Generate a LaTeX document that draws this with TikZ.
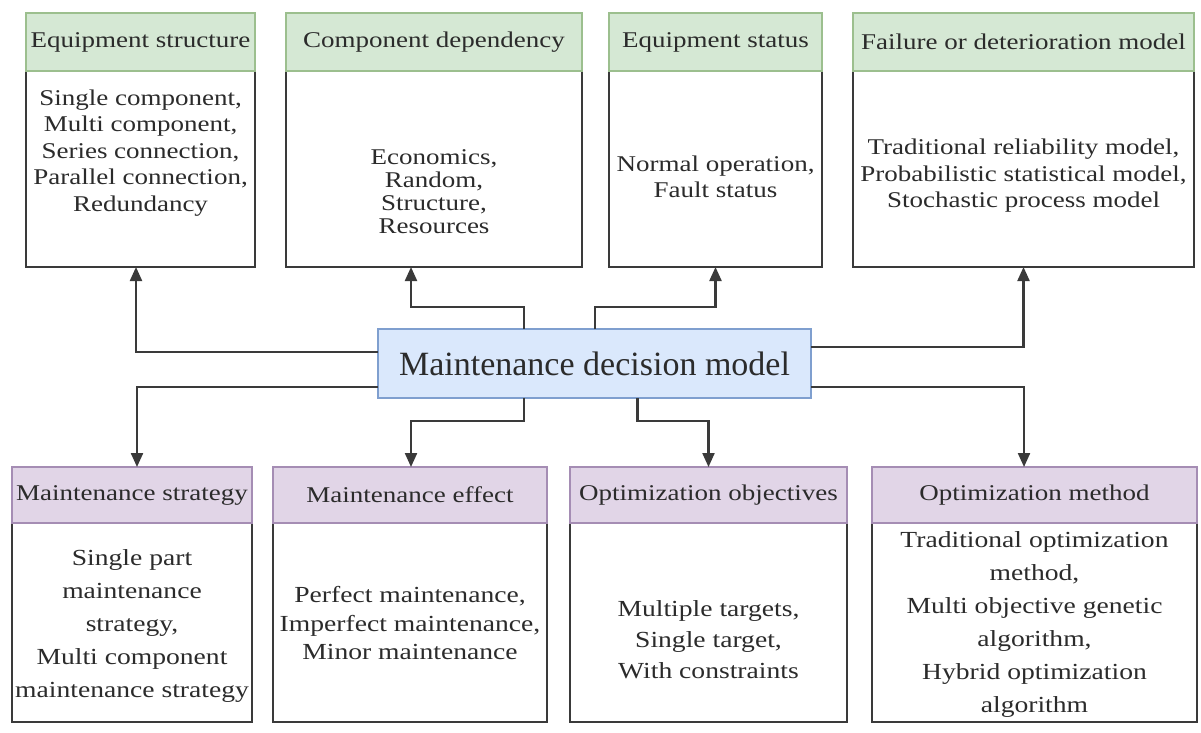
\documentclass[tikz,border=0pt]{standalone}
\usepackage{fontspec}
\setmainfont{Liberation Serif}
\newfontfamily\widefont[FakeStretch=1.2]{Liberation Serif}
\usetikzlibrary{arrows.meta}

\definecolor{greenfill}{HTML}{D5E8D4}
\definecolor{greenline}{HTML}{9CBF8E}
\definecolor{purplefill}{HTML}{E1D5E7}
\definecolor{purpleline}{HTML}{A58DB4}
\definecolor{bluefill}{HTML}{DAE8FC}
\definecolor{blueline}{HTML}{7F9FCF}
\definecolor{ink}{HTML}{2B2B2B}
\definecolor{wire}{HTML}{3A3A3A}

\tikzset{
  every node/.style={inner sep=0pt, outer sep=0pt},
  head/.style={rectangle, line width=1.5pt, text=ink,
    font=\widefont\fontsize{22.5}{26.5}\selectfont},
  greenhead/.style={head, fill=greenfill, draw=greenline},
  purplehead/.style={head, fill=purplefill, draw=purpleline},
  bodybox/.style={rectangle, draw=wire, line width=2.2pt, fill=white},
  toptext/.style={align=center, text=ink,
    font=\widefont\fontsize{22.5}{26.5}\selectfont},
  bottext/.style={align=center, text=ink,
    font=\widefont\fontsize{23}{#1}\selectfont},
  hub/.style={rectangle, fill=bluefill, draw=blueline, line width=1.5pt,
    text=ink, font=\fontsize{34}{40}\selectfont},
  conn/.style={draw=wire, line width=2.2pt,
    -{Triangle[length=14pt,width=12pt]}}
}

\begin{document}
\begin{tikzpicture}[x=1pt, y=-1pt]
\useasboundingbox[fill=white] (0,0) rectangle (1201,732);

% ---------- upper row: bodies ----------
\node[bodybox, minimum width=229pt, minimum height=196pt] (t1) at (140.5,169) {};
\node[bodybox, minimum width=296pt, minimum height=196pt] (t2) at (434,169) {};
\node[bodybox, minimum width=213pt, minimum height=196pt] (t3) at (715.5,169) {};
\node[bodybox, minimum width=341pt, minimum height=196pt] (t4) at (1023.5,169) {};

% ---------- upper row: headers ----------
\node[greenhead, minimum width=229pt, minimum height=58pt] (h1) at (140.5,42) {Equipment structure};
\node[greenhead, minimum width=296pt, minimum height=58pt] (h2) at (434,42) {Component dependency};
\node[greenhead, minimum width=213pt, minimum height=58pt] (h3) at (715.5,42) {Equipment status};
\node[greenhead, minimum width=341pt, minimum height=58pt] (h4) at (1023.5,42) {Failure or deterioration model};

% ---------- upper row: contents ----------
\node[toptext] (x1) at (140.5,153) {Single component,\\Multi component,\\Series connection,\\Parallel connection,\\Redundancy};
\node[toptext, font=\widefont\fontsize{22.5}{23}\selectfont] (x2) at (434,192) {Economics,\\Random,\\Structure,\\Resources};
\node[toptext] (x3) at (715.5,177) {Normal operation,\\Fault status};
\node[toptext] (x4) at (1023.5,176) {Traditional reliability model,\\Probabilistic statistical model,\\Stochastic process model};

% ---------- central node ----------
\node[hub, minimum width=433pt, minimum height=69pt] (c) at (594.5,363.5) {Maintenance decision model};

% ---------- lower row: bodies ----------
\node[bodybox, minimum width=240pt, minimum height=199pt] (b5) at (132,622.5) {};
\node[bodybox, minimum width=274pt, minimum height=199pt] (b6) at (410,622.5) {};
\node[bodybox, minimum width=277pt, minimum height=199pt] (b7) at (708.5,622.5) {};
\node[bodybox, minimum width=325pt, minimum height=199pt] (b8) at (1034.5,622.5) {};

% ---------- lower row: headers ----------
\node[purplehead, minimum width=240pt, minimum height=56pt] (p5) at (132,495) {Maintenance strategy};
\node[purplehead, minimum width=274pt, minimum height=56pt] (p6) at (410,495) {Maintenance effect};
\node[purplehead, minimum width=277pt, minimum height=56pt] (p7) at (708.5,495) {Optimization objectives};
\node[purplehead, minimum width=325pt, minimum height=56pt] (p8) at (1034.5,495) {Optimization method};

% ---------- lower row: contents ----------
\node[bottext=33pt] (y5) at (132,626) {Single part\\maintenance\\strategy,\\Multi component\\maintenance strategy};
\node[bottext=28.5pt] (y6) at (410,623) {Perfect maintenance,\\Imperfect maintenance,\\Minor maintenance};
\node[bottext=31pt] (y7) at (708.5,640) {Multiple targets,\\Single target,\\With constraints};
\node[bottext=33pt] (y8) at (1034.5,624) {Traditional optimization\\method,\\Multi objective genetic\\algorithm,\\Hybrid optimization\\algorithm};

% ---------- connectors to the upper row ----------
\draw[conn] ([yshift=11.5pt]c.west) -| ([xshift=-4.5pt]t1.south);
\draw[conn] ([xshift=-70.5pt]c.north) -- ++(0,-22) -| ([xshift=-23pt]t2.south);
\draw[conn] ([xshift=0.5pt]c.north) -- ++(0,-22) -| (t3.south);
\draw[conn] ([yshift=16.5pt]c.east) -| (t4.south);

% ---------- connectors to the lower row ----------
\draw[conn] ([yshift=-23.5pt]c.west) -| ([xshift=5pt]p5.north);
\draw[conn] ([xshift=-70.5pt]c.south) -- ++(0,23) -| ([xshift=1pt]p6.north);
\draw[conn] ([xshift=43pt]c.south) -- ++(0,23) -| (p7.north);
\draw[conn] ([yshift=-23.5pt]c.east) -| ([xshift=-10.5pt]p8.north);
\end{tikzpicture}
\end{document}
